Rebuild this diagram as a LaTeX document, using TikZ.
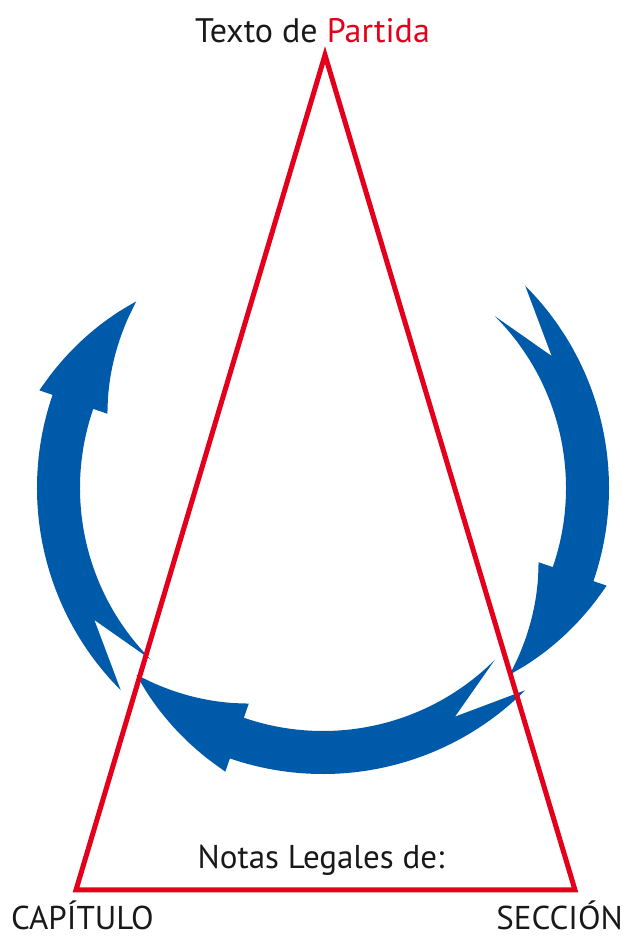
\documentclass[tikz,border=0pt]{standalone}
\usepackage{fontspec}
\setmainfont{PT Sans}
\usepackage{xcolor}
\definecolor{CycleBlue}{RGB}{0,90,170}
\definecolor{TriRed}{RGB}{228,0,27}
\definecolor{InkGray}{RGB}{25,25,25}

% one curved arrow of the cycle, tail at angle #1, head 90 degrees further clockwise
\newcommand{\cyclearrow}[1]{%
\fill[CycleBlue] (#1:286) arc[start angle=#1, end angle=#1-64, radius=286]
  -- (#1-64:300)
  -- plot[smooth, variable=\t, domain=0:1, samples=7] ({#1-64-26*\t}:{300-36*\t})
  -- plot[smooth, variable=\t, domain=0:1, samples=7] ({#1-90+26*\t}:{264-36*\t})
  -- (#1-64:243)
  arc[start angle=#1-64, end angle=#1, radius=243]
  -- (#1-15:264) -- cycle;}

\begin{document}
\begin{tikzpicture}[
x=1pt, y=1pt,
tri/.style={draw=TriRed, line width=5pt, line join=miter},
lbl/.style={inner sep=0pt, text=InkGray, font=\fontsize{33}{38}\selectfont},
title/.style={lbl, font=\fontsize{34}{40}\selectfont}
]
\useasboundingbox (0,0) rectangle (630,937);

% cycle of arrows
\begin{scope}[shift={(323,449)}]
\cyclearrow{45}
\cyclearrow{-45}
\cyclearrow{225}
\end{scope}

% triangle
\coordinate (apex) at (325,882);
\coordinate (left) at (76,47);
\coordinate (right) at (575,47);
\draw[tri] (apex) -- (left) -- (right) -- cycle;

% labels
\node[title, anchor=base west] (start) at (195,894) {Texto de \textcolor{TriRed}{Partida}};
\node[lbl, anchor=base] (notes) at (321,68) {Notas Legales de:};
\node[lbl, anchor=base west] (chapter) at (11,7) {CAPÍTULO};
\node[lbl, anchor=base east] (section) at (623,7) {SECCIÓN};
\end{tikzpicture}
\end{document}
